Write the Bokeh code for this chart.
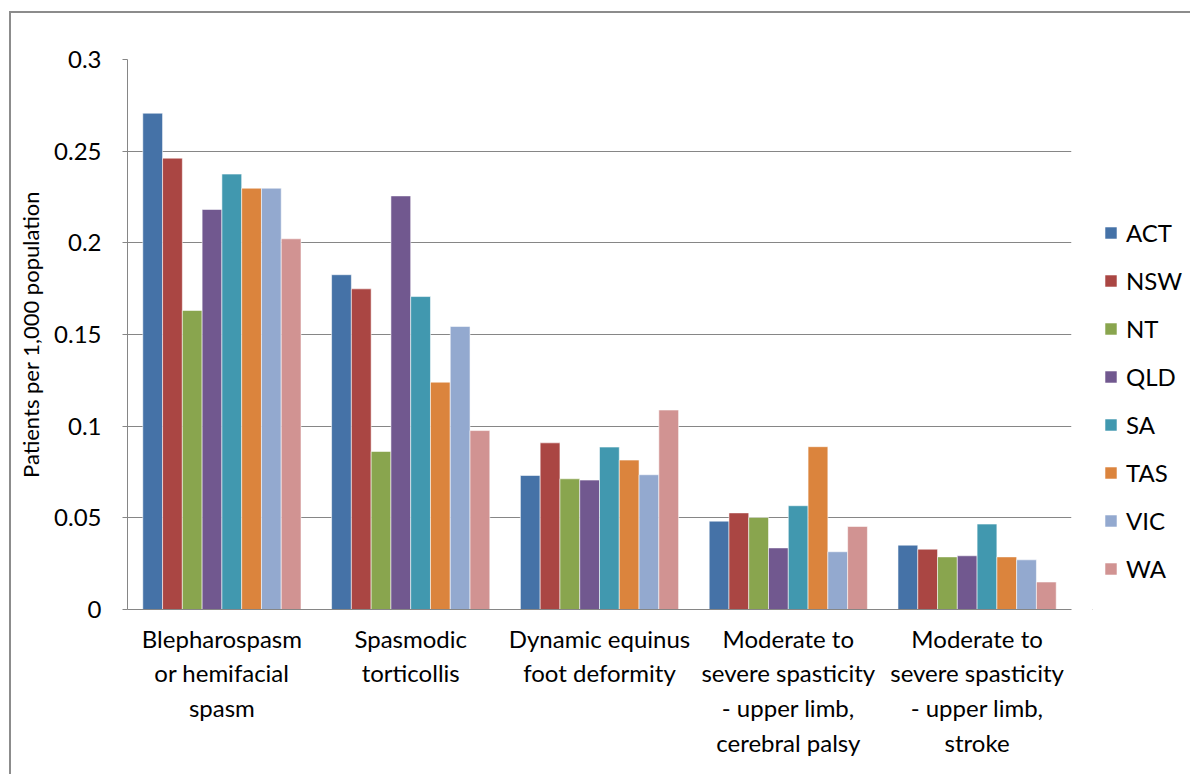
from bokeh.plotting import figure
from bokeh.layouts import row
from bokeh.models import (FactorRange, Range1d, FixedTicker, CustomJSTickFormatter,
                          Legend, LegendItem, ColumnDataSource)
from bokeh.transform import dodge
from bokeh.embed import file_html
from bokeh.resources import INLINE

categories = [
    "Blepharospasm\nor hemifacial\nspasm",
    "Spasmodic\ntorticollis",
    "Dynamic equinus\nfoot deformity",
    "Moderate to\nsevere spasticity\n- upper limb,\ncerebral palsy",
    "Moderate to\nsevere spasticity\n- upper limb,\nstroke",
]
states = ["ACT", "NSW", "NT", "QLD", "SA", "TAS", "VIC", "WA"]
ACT = [0.2707, 0.1826, 0.0731, 0.0482, 0.0351]
NSW = [0.2462, 0.1749, 0.0909, 0.0527, 0.0329]
NT = [0.1631, 0.0862, 0.0713, 0.0502, 0.0287]
QLD = [0.2182, 0.2256, 0.0706, 0.0336, 0.0293]
SA = [0.2375, 0.1707, 0.0886, 0.0566, 0.0466]
TAS = [0.2298, 0.1240, 0.0815, 0.0888, 0.0287]
VIC = [0.2298, 0.1544, 0.0735, 0.0315, 0.0271]
WA = [0.2022, 0.0976, 0.1088, 0.0453, 0.0150]
colors = ["#4572A7", "#AA4643", "#89A54E", "#71588F", "#4198AF", "#DB843D", "#93A9CF", "#D19392"]
y_ticks = [0, 0.05, 0.1, 0.15, 0.2, 0.25, 0.3]

series = dict(ACT=ACT, NSW=NSW, NT=NT, QLD=QLD, SA=SA, TAS=TAS, VIC=VIC, WA=WA)
data = {"cat": categories}
data.update(series)
source = ColumnDataSource(data)

FONT = "Lato"
FRAME = "#8c8c8c"

# ---- main chart ----
p = figure(x_range=FactorRange(*categories, range_padding=0),
           y_range=Range1d(0, 0.3),
           width=1081, height=763, output_backend="svg", toolbar_location=None,
           min_border_left=116, min_border_right=21, min_border_top=46, min_border_bottom=167)
p.margin = 0
p.outline_line_color = None
p.background_fill_color = "white"
p.border_fill_color = "white"

bw = 0.838 / len(states)
for j, st in enumerate(states):
    off = (j - (len(states) - 1) / 2) * bw
    p.vbar(x=dodge("cat", off, range=p.x_range), top=st, width=bw, source=source,
           fill_color=colors[j], line_color="white", line_alpha=0.55, line_width=1)

p.xgrid.grid_line_color = None
p.ygrid.grid_line_color = "#868686"
p.ygrid.grid_line_width = 1
p.yaxis.ticker = FixedTicker(ticks=y_ticks)
p.yaxis.formatter = CustomJSTickFormatter(code="""
var s = tick.toFixed(2).replace(/0+$/, '').replace(/\\.$/, '');
return s;
""")
p.yaxis.axis_label = "Patients per 1,000 population"
p.yaxis.axis_label_text_font = FONT
p.yaxis.axis_label_text_font_size = "22px"
p.yaxis.axis_label_text_font_style = "normal"
p.yaxis.axis_label_text_color = "black"
p.yaxis.axis_label_standoff = 7
p.yaxis.major_label_text_font = FONT
p.yaxis.major_label_text_font_size = "24px"
p.yaxis.major_label_text_color = "black"
p.yaxis.major_label_standoff = 21
p.yaxis.major_tick_out = 5
p.yaxis.major_tick_in = 0
p.yaxis.minor_tick_line_color = None
p.yaxis.axis_line_color = "#868686"
p.yaxis.major_tick_line_color = "#868686"

p.xaxis.axis_line_color = "#868686"
p.xaxis.major_tick_line_color = None
p.xaxis.major_tick_out = 0
p.xaxis.major_label_standoff = 14
p.xaxis.major_label_text_font = FONT
p.xaxis.major_label_text_font_size = "24px"
p.xaxis.major_label_text_color = "black"
p.xaxis.major_label_text_line_height = 1.2
p.xaxis.major_label_orientation = "horizontal"

# ---- legend panel ----
lg = figure(width=100, height=763, x_range=Range1d(0, 1), y_range=Range1d(0, 1),
            output_backend="svg", toolbar_location=None,
            x_axis_location=None, y_axis_location=None,
            min_border_left=0, min_border_right=0, min_border_top=0, min_border_bottom=0)
lg.margin = 0
lg.outline_line_color = None
lg.xgrid.grid_line_color = None
lg.ygrid.grid_line_color = None
lg.background_fill_color = "white"
lg.border_fill_color = "white"

# legend-swatch proxies, placed outside the visible range of the legend panel
proxy = ColumnDataSource(dict(x=[-10.0], top=[-10.0]))
items = []
for j, st in enumerate(states):
    r = lg.vbar(x="x", top="top", width=0.1, source=proxy,
                fill_color=colors[j], line_color="white", line_alpha=0.55, line_width=1)
    items.append(LegendItem(label=st, renderers=[r], index=0))

legend = Legend(items=items, location=(11, 26), glyph_width=15, glyph_height=15,
                label_text_font=FONT, label_text_font_size="24px", label_text_color="black",
                label_standoff=8, spacing=19, padding=0, margin=0,
                border_line_color=None, background_fill_alpha=0)
lg.add_layout(legend)

layout = row(p, lg, spacing=0)
layout.margin = (13, 0, 0, 11)
layout.styles = {"box-shadow": "-2px -2px 0 0 " + FRAME}
open("out.html", "w").write(file_html(layout, INLINE))
